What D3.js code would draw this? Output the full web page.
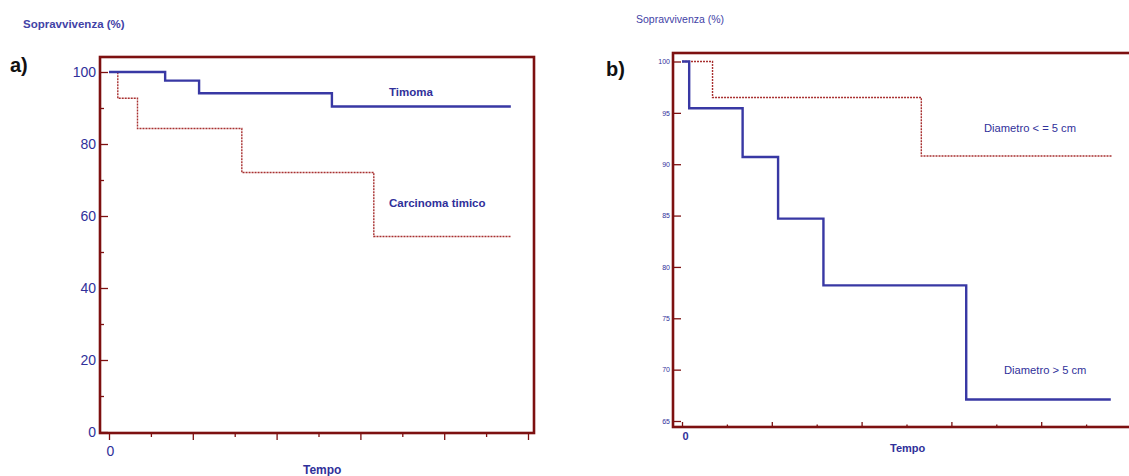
<!DOCTYPE html>
<html>
<head>
<meta charset="utf-8">
<script src="https://cdn.jsdelivr.net/npm/d3@7"></script>
<style>
  body { margin: 0; background: #fff; }
  svg { display: block; font-family: "Liberation Sans", Arial, sans-serif; }
</style>
</head>
<body>
<svg id="chart" width="1129" height="476"></svg>
<script>
// ---- data ----
// panel a: Timoma vs Carcinoma timico
const timomaTime = [0, 1.34, 2.15, 5.32, 9.59];
const timomaSurv = [100, 97.6, 94.1, 90.4, 90.4];
const carcinomaTime = [0, 0.21, 0.68, 3.17, 6.32, 9.59];
const carcinomaSurv = [100, 92.7, 84.3, 72.1, 54.3, 54.3];

// panel b: tumour diameter
const bigTime = [0, 0.16, 1.35, 2.14, 3.15, 6.33, 9.55];
const bigSurv = [100, 95.45, 90.7, 84.7, 78.2, 67.1, 67.1];
const smallTime = [0, 0.68, 5.33, 9.58];
const smallSurv = [100, 96.5, 90.8, 90.8];

const yTicksA = [0, 20, 40, 60, 80, 100];
const yMinorA = [10, 30, 50, 70, 90];
const yTicksB = [65, 70, 75, 80, 85, 90, 95, 100];
const xMajor = [0, 2, 4, 6, 8, 10];
const xMinor = [1, 3, 5, 7, 9];

const svg = d3.select("#chart");
const frameColor = "#7d1010";
const blueText = "#30309a";
const blueLine = "#3838a4";
const redLine = "#a83030";

const zip = (t, s) => t.map((d, i) => [d, s[i]]);

function drawPanel(opt) {
  const g = svg.append("g");
  const x = d3.scaleLinear().domain([0, 10]).range(opt.xRange);
  const y = d3.scaleLinear().domain(opt.yDomain).range(opt.yRange);

  // y axis (ticks pointing inward)
  const ya = g.append("g")
    .attr("transform", `translate(${opt.frame.left},0)`)
    .call(d3.axisLeft(y).tickValues(opt.yTicks).tickSize(-opt.yTickLen).tickPadding(opt.yPad));
  ya.select(".domain").remove();
  ya.selectAll("line").attr("stroke", frameColor).attr("stroke-width", 1.3);
  ya.selectAll("text").attr("fill", blueText).style("font-size", opt.yFont + "px");

  if (opt.yMinor) {
    const ym = g.append("g")
      .attr("transform", `translate(${opt.frame.left},0)`)
      .call(d3.axisLeft(y).tickValues(opt.yMinor).tickSize(-4).tickFormat(""));
    ym.select(".domain").remove();
    ym.selectAll("line").attr("stroke", frameColor).attr("stroke-width", 1.3);
  }

  // x axis
  const dir = opt.xInward ? -1 : 1;
  const xa = g.append("g")
    .attr("transform", `translate(0,${opt.frame.bottom})`)
    .call(d3.axisBottom(x).tickValues(xMajor).tickSize(dir * opt.xMajorLen)
      .tickFormat(d => d === 0 ? "0" : ""));
  xa.select(".domain").remove();
  xa.selectAll("line").attr("stroke", frameColor).attr("stroke-width", 1.3);
  xa.selectAll("text")
    .attr("fill", blueText)
    .attr("y", opt.xLabelY)
    .attr("dx", opt.xLabelDx)
    .style("font-size", opt.xFont + "px")
    .style("font-weight", opt.xBold ? "bold" : "normal");

  const xm = g.append("g")
    .attr("transform", `translate(0,${opt.frame.bottom})`)
    .call(d3.axisBottom(x).tickValues(xMinor).tickSize(dir * opt.xMinorLen).tickFormat(""));
  xm.select(".domain").remove();
  xm.selectAll("line").attr("stroke", frameColor).attr("stroke-width", 1.3);

  // frame
  g.append("rect")
    .attr("x", opt.frame.left).attr("y", opt.frame.top)
    .attr("width", opt.frame.right - opt.frame.left)
    .attr("height", opt.frame.bottom - opt.frame.top)
    .attr("fill", "none").attr("stroke", frameColor).attr("stroke-width", 2.6);

  const line = d3.line().x(d => x(d[0])).y(d => y(d[1])).curve(d3.curveStepAfter);

  g.append("path").datum(opt.dotted)
    .attr("d", line).attr("fill", "none")
    .attr("stroke", redLine).attr("stroke-width", 1.4).attr("stroke-dasharray", "2,1");
  g.append("path").datum(opt.solid)
    .attr("d", line).attr("fill", "none")
    .attr("stroke", blueLine).attr("stroke-width", 2.4);

  return g;
}

// ---- panel a ----
const ga = drawPanel({
  xRange: [109, 528], yDomain: [0, 100], yRange: [432, 72],
  frame: { left: 100, top: 57, right: 534, bottom: 433 },
  yTicks: yTicksA, yMinor: yMinorA, yTickLen: 8, yPad: 4, yFont: 14,
  xInward: false, xMajorLen: 7, xMinorLen: 4, xLabelY: 13, xLabelDx: 1, xFont: 14, xBold: false,
  solid: zip(timomaTime, timomaSurv),
  dotted: zip(carcinomaTime, carcinomaSurv)
});
ga.append("text").attr("x", 23).attr("y", 28).attr("fill", "#4242a6")
  .style("font-size", "11.5px").style("font-weight", "bold").text("Sopravvivenza (%)");
ga.append("text").attr("x", 10).attr("y", 72).attr("fill", "#111")
  .style("font-size", "20px").style("font-weight", "bold").text("a)");
ga.append("text").attr("x", 389).attr("y", 96).attr("fill", blueText)
  .style("font-size", "11.5px").style("font-weight", "bold").text("Timoma");
ga.append("text").attr("x", 389).attr("y", 207).attr("fill", blueText)
  .style("font-size", "11.5px").style("font-weight", "bold").text("Carcinoma timico");
ga.append("text").attr("x", 303).attr("y", 474).attr("fill", blueText)
  .style("font-size", "12px").style("font-weight", "bold").text("Tempo");

// ---- panel b ----
const gb = drawPanel({
  xRange: [682, 1131], yDomain: [65, 100], yRange: [421, 61.5],
  frame: { left: 673, top: 53, right: 1140, bottom: 427 },
  yTicks: yTicksB, yMinor: null, yTickLen: 8, yPad: 3, yFont: 7,
  xInward: true, xMajorLen: 5, xMinorLen: 2.5, xLabelY: 5, xLabelDx: 3, xFont: 11, xBold: true,
  solid: zip(bigTime, bigSurv),
  dotted: zip(smallTime, smallSurv)
});
gb.append("text").attr("x", 636).attr("y", 23).attr("fill", "#4242a6")
  .style("font-size", "10.5px").text("Sopravvivenza (%)");
gb.append("text").attr("x", 606).attr("y", 76).attr("fill", "#111")
  .style("font-size", "20px").style("font-weight", "bold").text("b)");
gb.append("text").attr("x", 984).attr("y", 132).attr("fill", blueText)
  .style("font-size", "11.2px").text("Diametro < = 5 cm");
gb.append("text").attr("x", 1004).attr("y", 374).attr("fill", blueText)
  .style("font-size", "11.2px").text("Diametro > 5 cm");
gb.append("text").attr("x", 890).attr("y", 452).attr("fill", blueText)
  .style("font-size", "11px").style("font-weight", "bold").text("Tempo");
</script>
</body>
</html>
